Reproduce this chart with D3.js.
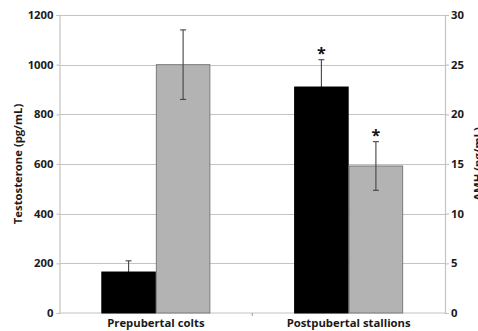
<!DOCTYPE html>
<html>
<head>
<meta charset="utf-8">
<script src="https://cdn.jsdelivr.net/npm/d3@7"></script>
<style>
    body { margin: 0; background: #fff; }
    svg { display: block; font-family: "Open Sans", sans-serif; font-weight: bold; }
</style>
</head>
<body>
<div id="container"></div>
<script>
// chart data
const categories = ["Prepubertal colts", "Postpubertal stallions"];
const testosterone = [165, 910];
const testosteroneErr = [45, 110];
const amh = [25, 14.8];
const amhErr = [3.5, 2.45];
const testosteroneSig = [false, true];
const amhSig = [false, true];
const leftTicks = [0, 200, 400, 600, 800, 1000, 1200];
const rightTicks = [0, 5, 10, 15, 20, 25, 30];

const width = 478, height = 331;
const plotLeft = 59.5, plotRight = 445, plotTop = 15, plotBottom = 313;
const fontSize = 11.3;

// adds main svg
const svg = d3.select("#container").append("svg")
    .attr("width", width)
    .attr("height", height);

// scales
const x = d3.scaleBand()
    .domain(categories)
    .range([plotLeft, plotRight])
    .paddingInner(0.4345)
    .paddingOuter(0.217);
const xInner = d3.scaleBand()
    .domain(["testosterone", "amh"])
    .range([0, x.bandwidth()]);
const yLeft = d3.scaleLinear().domain([0, 1200]).range([plotBottom, plotTop]);
const yRight = d3.scaleLinear().domain([0, 30]).range([plotBottom, plotTop]);

// gridlines
svg.append("g")
    .selectAll("line")
    .data(leftTicks.slice(1))
    .join("line")
    .attr("x1", plotLeft)
    .attr("x2", plotRight)
    .attr("y1", d => Math.round(yLeft(d)) + 0.5)
    .attr("y2", d => Math.round(yLeft(d)) + 0.5)
    .attr("stroke", "#c4c4c4")
    .attr("stroke-width", 1.2);

// axes
const leftAxis = svg.append("g")
    .attr("transform", `translate(${plotLeft},0)`)
    .call(d3.axisLeft(yLeft).tickValues(leftTicks).tickFormat(d3.format("d")).tickSize(3).tickPadding(3));
const rightAxis = svg.append("g")
    .attr("transform", `translate(${plotRight},0)`)
    .call(d3.axisRight(yRight).tickValues(rightTicks).tickFormat(d3.format("d")).tickSize(4).tickPadding(2));
const bottomAxis = svg.append("g")
    .attr("transform", `translate(0,${plotBottom})`)
    .call(d3.axisBottom(x).tickSize(0).tickPadding(6));

[leftAxis, rightAxis, bottomAxis].forEach(function(a) {
    a.attr("font-family", null).attr("font-size", fontSize);
    a.selectAll(".domain").attr("stroke", "#c4c4c4").attr("stroke-width", 1.2);
    a.selectAll(".tick line").attr("stroke", "#c4c4c4").attr("stroke-width", 1.2);
    a.selectAll(".tick text").attr("fill", "#1a1a1a");
});
bottomAxis.select(".domain").attr("d", `M${plotLeft},0H${plotRight}`);

// small separator tick between the two groups
svg.append("line")
    .attr("x1", (x(categories[0]) + x.bandwidth() + x(categories[1])) / 2)
    .attr("x2", (x(categories[0]) + x.bandwidth() + x(categories[1])) / 2)
    .attr("y1", plotBottom)
    .attr("y2", plotBottom + 3)
    .attr("stroke", "#999");

// builds one row per bar
const bars = [];
categories.forEach(function(c, i) {
    bars.push({cat: c, key: "testosterone", v: testosterone[i], e: testosteroneErr[i], sig: testosteroneSig[i], y: yLeft});
    bars.push({cat: c, key: "amh", v: amh[i], e: amhErr[i], sig: amhSig[i], y: yRight});
});
const barX = d => x(d.cat) + xInner(d.key);
const barMid = d => barX(d) + xInner.bandwidth() / 2;

// draws error bars for a set of bars into a layer
function drawErrors(layer, data) {
    const err = layer.selectAll("g")
        .data(data)
        .join("g")
        .attr("stroke", "#444")
        .attr("stroke-width", 1.1);
    err.append("line")
        .attr("x1", barMid).attr("x2", barMid)
        .attr("y1", d => d.y(d.v - d.e))
        .attr("y2", d => d.y(d.v + d.e));
    err.append("line")
        .attr("x1", d => barMid(d) - 3).attr("x2", d => barMid(d) + 3)
        .attr("y1", d => d.y(d.v + d.e))
        .attr("y2", d => d.y(d.v + d.e));
    err.append("line")
        .attr("x1", d => barMid(d) - 3).attr("x2", d => barMid(d) + 3)
        .attr("y1", d => d.y(d.v - d.e))
        .attr("y2", d => d.y(d.v - d.e));
}

// testosterone error bars sit behind the black bars (lower half hidden)
drawErrors(svg.append("g"), bars.filter(d => d.key === "testosterone"));

svg.append("g")
    .selectAll("rect")
    .data(bars)
    .join("rect")
    .attr("x", d => barX(d) + 0.5)
    .attr("width", xInner.bandwidth() - 1)
    .attr("y", d => d.y(d.v))
    .attr("height", d => d.y(0) - d.y(d.v))
    .attr("fill", d => d.key === "testosterone" ? "#000" : "#b3b3b3")
    .attr("stroke", d => d.key === "testosterone" ? "#000" : "#7a7a7a")
    .attr("stroke-width", 1);

drawErrors(svg.append("g"), bars.filter(d => d.key === "amh"));

// significance stars
svg.append("g")
    .selectAll("text")
    .data(bars.filter(d => d.sig))
    .join("text")
    .attr("x", barMid)
    .attr("y", d => d.y(d.v + d.e) - 1)
    .attr("text-anchor", "middle")
    .attr("font-size", 16)
    .attr("fill", "#111")
    .text("*");

// axis titles
svg.append("text")
    .attr("transform", `translate(22,${(plotTop + plotBottom) / 2}) rotate(-90)`)
    .attr("text-anchor", "middle")
    .attr("font-size", fontSize)
    .attr("fill", "#1a1a1a")
    .text("Testosterone (pg/mL)");
svg.append("text")
    .attr("transform", `translate(482,${(plotTop + plotBottom) / 2}) rotate(-90)`)
    .attr("text-anchor", "middle")
    .attr("font-size", fontSize)
    .attr("fill", "#1a1a1a")
    .text("AMH (ng/mL)");
</script>
</body>
</html>
